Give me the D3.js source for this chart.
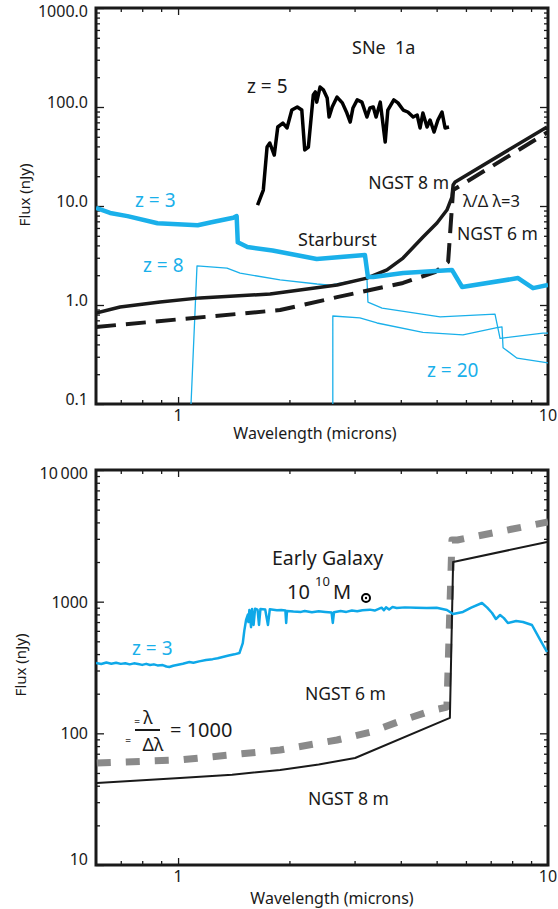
<!DOCTYPE html>
<html>
<head>
<meta charset="utf-8">
<script src="https://cdn.jsdelivr.net/npm/d3@7"></script>
<style>
  body { margin: 0; background: #fff; }
  svg { display: block; font-family: "Noto Sans", "Open Sans", sans-serif; }
  text { white-space: pre; }
</style>
</head>
<body>
<div id="chart"></div>
<script>
// ---------- top panel: SNe 1a, starbursts, NGST sensitivity ----------
const sneWave = [1.64,1.70,1.74,1.77,1.82,1.86,1.92,1.97,2.03,2.10,2.16,2.20,2.25,2.32,2.35,2.37,2.42,2.47,2.53,2.56,2.61,2.69,2.78,2.86,2.92,2.97,3.05,3.14,3.24,3.30,3.37,3.43,3.52,3.63,3.69,3.83,3.93,4.06,4.18,4.32,4.43,4.51,4.59,4.71,4.80,4.92,5.04,5.17,5.27,5.40];
const sneFlux = [10.2,14.5,39.4,43.3,32.7,62.8,68.9,61.4,93.2,100,93.2,36.8,39.4,132,142,112,159,149,123,79.3,100,126,110,86.9,70.5,97.7,118,112,79.3,97.7,100,79.3,112,44.3,93.2,118,110,93.2,89,79.3,83,61.4,86.9,62.8,73.9,55.9,73.9,89,61.4,62.8];

const sb3Wave = [0.60,0.655,0.73,0.88,1.13,1.24,1.41,1.44,1.45,1.54,1.80,2.37,3.20,3.26,3.37,4.06,5.50,5.86,8.30,9.11,10];
const sb3Flux = [9.55,8.5,7.9,6.7,6.4,6.9,7.6,7.9,4.3,3.85,3.55,2.92,3.2,1.92,1.92,2.1,2.26,1.52,1.87,1.48,1.59];

const sb8Wave = [1.084,1.125,1.356,1.471,1.887,2.374,2.576,3.24,3.26,3.56,5.11,7.19,7.42,9.69,10];
const sb8Flux = [0.1,2.48,2.36,2.10,1.79,1.63,1.59,1.87,1.07,0.93,0.76,0.81,0.46,0.52,0.52];

const sb20Wave = [2.62,2.62,3.10,3.45,4.59,5.89,7.28,7.51,7.56,8.25,10];
const sb20Flux = [0.1,0.774,0.74,0.658,0.53,0.50,0.59,0.60,0.37,0.29,0.26];

const ngst8Wave = [0.60,0.697,0.894,1.147,1.773,2.69,3.24,3.67,4.056,4.594,5.01,5.33,5.50,5.54,5.61,9.94];
const ngst8Flux = [0.83,0.955,1.07,1.18,1.29,1.59,1.87,2.26,2.98,4.86,6.73,9.1,12.3,16.3,17.5,62.8];

const ngst6Wave = [0.60,1.887,2.69,4.056,4.95,5.37,5.54,10];
const ngst6Flux = [0.60,0.89,1.20,1.67,2.15,2.72,14.5,55.9];

// ---------- bottom panel: early galaxy at z = 3, R = 1000 ----------
const galWave = [0.60,0.62,0.64,0.66,0.68,0.70,0.72,0.74,0.76,0.78,0.80,0.82,0.84,0.86,0.88,0.909,0.93,0.947,0.97,1.00,1.03,1.073,1.10,1.14,1.19,1.24,1.28,1.32,1.37,1.42,1.465,1.496,1.51,1.527,1.545,1.55,1.559,1.575,1.585,1.60,1.615,1.64,1.655,1.67,1.72,1.75,1.77,1.85,1.90,1.95,1.96,1.97,2.05,2.15,2.20,2.30,2.40,2.50,2.60,2.62,2.64,2.75,2.85,2.95,3.05,3.15,3.30,3.40,3.55,3.60,3.65,3.72,3.80,3.90,4.10,4.40,4.70,5.00,5.33,5.54,5.89,6.20,6.63,6.85,7.06,7.23,7.42,7.60,7.79,8.20,8.56,9.05,9.50,9.94];
const galFlux = [342,336,345,338,344,337,341,334,340,336,331,337,330,334,328,330,322,319,326,332,338,348,344,352,360,366,372,380,390,398,407,485,600,726,800,700,865,640,880,666,885,870,666,880,872,666,875,862,866,858,689,850,842,836,850,832,846,836,826,689,832,850,836,856,846,862,870,856,900,860,905,872,910,895,905,898,895,900,865,806,835,900,977,900,820,738,792,750,689,712,701,665,520,415];

const ngst8bWave = [0.603,1.012,1.40,1.887,2.40,3.01,5.43,5.54,9.94];
const ngst8bFlux = [42,45.8,48.5,52.7,58,65,131,2000,2840];

const ngst6bWave = [0.603,1.012,1.887,2.69,3.30,4.056,4.89,5.33,5.50,5.69,10];
const ngst6bFlux = [59.5,62.8,74.7,89,102,126,150,158,2940,2940,4030];

// ---------- layout ----------
const W = 558, H = 909;
const left = 96, right = 548;
const top1 = 8, bot1 = 404;
const top2 = 470, bot2 = 865;
const cyan = "#1ab0ea";
const ink = "#1a1a1a";

const svg = d3.select("#chart").append("svg")
    .attr("width", W)
    .attr("height", H);

const x = d3.scaleLog().domain([0.6, 10]).range([left, right]);
const y1 = d3.scaleLog().domain([0.1, 1000]).range([bot1, top1]);
const y2 = d3.scaleLog().domain([10, 10000]).range([bot2, top2]);

const xMinor = [0.7, 0.8, 0.9, 2, 3, 4, 5, 6, 7, 8, 9];

function minorY(lo, hi) {
  let out = [];
  for (let d = lo; d < hi; d *= 10)
    for (let k = 2; k <= 9; k++) out.push(d * k);
  return out;
}
function majorY(lo, hi) {
  let out = [];
  for (let d = lo; d <= hi * 1.0001; d *= 10) out.push(d);
  return out;
}

function frame(yScale, yTop, yBot, yLo, yHi, yFmt, labelY, clipId) {
  const g = svg.append("g");
  [[d3.axisLeft, `translate(${left},0)`], [d3.axisRight, `translate(${right},0)`]].forEach(([ax, tr]) => {
    g.append("g").attr("transform", tr)
      .call(ax(yScale).tickValues(minorY(yLo, yHi)).tickSize(-4).tickFormat(""));
    g.append("g").attr("transform", tr)
      .call(ax(yScale).tickValues(majorY(yLo, yHi)).tickSize(-8).tickFormat(""));
  });
  [[d3.axisTop, `translate(0,${yTop})`], [d3.axisBottom, `translate(0,${yBot})`]].forEach(([ax, tr]) => {
    g.append("g").attr("transform", tr)
      .call(ax(x).tickValues(xMinor).tickSize(-4).tickFormat(""));
    g.append("g").attr("transform", tr)
      .call(ax(x).tickValues([1]).tickSize(-7).tickFormat(""));
  });
  g.selectAll(".domain").remove();
  g.selectAll(".tick line").attr("stroke", ink).attr("stroke-width", 1.3);

  // tick labels
  g.selectAll(null).data(majorY(yLo, yHi)).join("text")
      .attr("x", left - 8)
      .attr("y", d => labelY(yScale(d)))
      .attr("text-anchor", "end")
      .attr("dominant-baseline", "central")
      .attr("font-size", 16)
      .attr("fill", ink)
      .text(yFmt);
  g.selectAll(null).data([1, 10]).join("text")
      .attr("x", d => x(d))
      .attr("y", yBot + 11)
      .attr("text-anchor", "middle")
      .attr("dominant-baseline", "central")
      .attr("font-size", 16)
      .attr("fill", ink)
      .text(d => d);

  g.append("rect")
      .attr("x", left).attr("y", yTop)
      .attr("width", right - left).attr("height", yBot - yTop)
      .attr("fill", "none").attr("stroke", ink).attr("stroke-width", 3);

  svg.append("clipPath").attr("id", clipId).append("rect")
      .attr("x", left).attr("y", yTop)
      .attr("width", right - left).attr("height", yBot - yTop);
}

frame(y1, top1, bot1, 0.1, 1000, d => d3.format(".1f")(d),
      p => Math.max(p - 5, 11), "clip1");
frame(y2, top2, bot2, 10, 10000, d => d === 10000 ? "10\u2009000" : d,
      p => Math.min(Math.max(p, top2 + 3), bot2 - 6), "clip2");

// axis titles
svg.append("text").attr("x", 315).attr("y", 433)
    .attr("text-anchor", "middle").attr("dominant-baseline", "central")
    .attr("font-size", 16).attr("fill", ink).text("Wavelength (microns)");
svg.append("text").attr("x", 332).attr("y", 898)
    .attr("text-anchor", "middle").attr("dominant-baseline", "central")
    .attr("font-size", 16).attr("fill", ink).text("Wavelength (microns)");
svg.append("text").attr("transform", "translate(24,195) rotate(-90)")
    .attr("text-anchor", "middle").attr("dominant-baseline", "central")
    .attr("font-size", 15).attr("fill", ink).text("Flux (nJy)");
svg.append("text").attr("transform", "translate(20,665) rotate(-90)")
    .attr("text-anchor", "middle").attr("dominant-baseline", "central")
    .attr("font-size", 15).attr("fill", ink).text("Flux (nJy)");

// curves
function curve(wave, flux, yScale, clipId, style) {
  const pts = wave.map((w, i) => [w, flux[i]]);
  const line = d3.line().x(d => x(d[0])).y(d => yScale(d[1]));
  svg.append("path")
      .datum(pts)
      .attr("clip-path", `url(#${clipId})`)
      .attr("d", line)
      .attr("fill", "none")
      .attr("stroke", style.color)
      .attr("stroke-width", style.width)
      .attr("stroke-dasharray", style.dash || null)
      .attr("stroke-linejoin", "round");
}

curve(sb20Wave, sb20Flux, y1, "clip1", {color: cyan, width: 1.3});
curve(sb8Wave, sb8Flux, y1, "clip1", {color: cyan, width: 1.3});
curve(ngst6Wave, ngst6Flux, y1, "clip1", {color: ink, width: 4, dash: "20,10"});
curve(ngst8Wave, ngst8Flux, y1, "clip1", {color: ink, width: 3.5});
curve(sb3Wave, sb3Flux, y1, "clip1", {color: cyan, width: 4.5});
curve(sneWave, sneFlux, y1, "clip1", {color: "#000", width: 3.5});

curve(ngst6bWave, ngst6bFlux, y2, "clip2", {color: "#8a8a8a", width: 7, dash: "14,15"});
curve(ngst8bWave, ngst8bFlux, y2, "clip2", {color: ink, width: 2});
curve(galWave, galFlux, y2, "clip2", {color: "#0ea8e8", width: 2.5});

// annotations
function label(txt, xp, yp, opts = {}) {
  svg.append("text")
      .attr("x", xp).attr("y", yp)
      .attr("text-anchor", opts.anchor || "start")
      .attr("dominant-baseline", "central")
      .attr("font-size", opts.size || 18)
      .attr("fill", opts.color || ink)
      .text(txt);
}
label("SNe  1a", 352, 47);
label("z = 5", 247, 86, {size: 19});
label("z = 3", 135, 200, {color: cyan, size: 19});
label("NGST 8 m", 449, 182, {anchor: "end", size: 17.5});
label("\u03bb/\u0394 \u03bb=3", 463, 200, {size: 16.5});
label("NGST 6 m", 457, 233, {size: 17.5});
label("Starburst", 298, 239);
label("z = 8", 143, 265, {color: cyan, size: 19});
label("z = 20", 427, 370, {color: cyan, size: 19});

label("Early Galaxy", 272, 557, {size: 19.5});
label("10", 287, 591, {size: 20});
label("10", 315, 581, {size: 13});
label("M", 333, 591, {size: 20});
svg.append("circle").attr("cx", 366).attr("cy", 598).attr("r", 4)
    .attr("fill", "none").attr("stroke", "#000").attr("stroke-width", 2);
svg.append("circle").attr("cx", 366).attr("cy", 598).attr("r", 1.2).attr("fill", "#000");
label("z = 3", 132, 648, {color: cyan, size: 19});
label("NGST 6 m", 305, 693, {size: 17.5});
label("NGST 8 m", 308, 798, {size: 17.5});

label("\u03bb", 148, 717, {anchor: "middle", size: 18});
svg.append("line").attr("x1", 135).attr("x2", 160).attr("y1", 730).attr("y2", 730)
    .attr("stroke", ink).attr("stroke-width", 2);
label("\u0394\u03bb", 153, 744, {anchor: "middle", size: 18});
label("= 1000", 170, 729, {size: 20});
label("=", 137, 721, {size: 10, color: "#555", anchor: "middle"});
label("=", 128, 740, {size: 10, color: "#555", anchor: "middle"});
</script>
</body>
</html>
